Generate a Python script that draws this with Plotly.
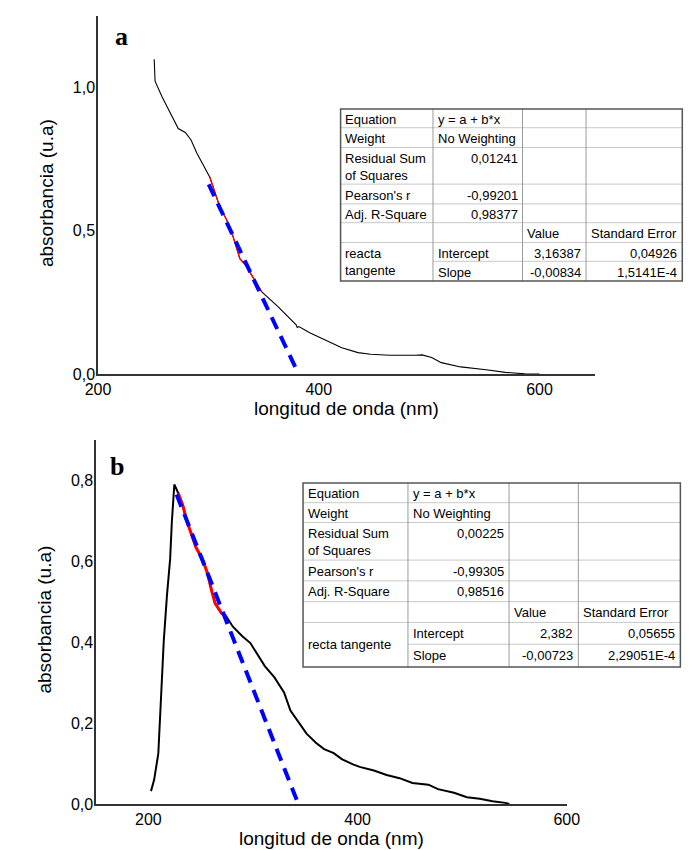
import plotly.graph_objects as go

W, H = 695, 850

# ---------------- data: panel a ----------------
wl_a = [250.9, 251.7, 258.1, 265.4, 272.7, 279.1, 284.3, 289.6, 295.9, 301.2, 306.1, 310.5,
        316.2, 322.1, 328.5, 333.7, 341.0, 348.2, 362.8, 371.5, 379.5, 380.5, 382.0, 391.8,
        406.4, 420.9, 435.5, 447.0, 464.5, 480.0, 487.8, 493.6, 502.3, 511.0, 528.5, 551.7,
        569.1, 586.6, 600.0]
abs_a = [1.099, 1.022, 0.967, 0.909, 0.857, 0.843, 0.817, 0.771, 0.725, 0.688, 0.633, 0.581,
         0.541, 0.483, 0.403, 0.380, 0.334, 0.288, 0.236, 0.201, 0.172, 0.163, 0.166, 0.144,
         0.117, 0.092, 0.075, 0.069, 0.066, 0.065, 0.066, 0.067, 0.058, 0.040, 0.025, 0.015,
         0.006, 0.001, 0.0]
fit_range_a = [301.2, 348.2]
tan_wl_a = [300.3, 381.7]
tan_abs_a = [0.662, 0.0]

# ---------------- data: panel b ----------------
wl_b = [202.5, 205.5, 209.5, 211.6, 214.7, 217.8, 220.8, 222.4, 224.8, 228.5, 233.1, 236.2,
        240.8, 245.4, 251.5, 256.1, 260.7, 263.8, 269.9, 274.5, 280.6, 289.8, 297.5, 306.7,
        311.3, 320.5, 329.7, 335.8, 343.5, 351.2, 360.4, 368.0, 377.2, 384.9, 395.6, 402.0,
        415.6, 427.8, 440.1, 452.4, 467.7, 476.9, 492.2, 504.5, 516.8, 529.0, 541.3, 545.0]
abs_b = [0.033, 0.061, 0.126, 0.249, 0.404, 0.518, 0.607, 0.697, 0.791, 0.770, 0.738, 0.705,
         0.673, 0.636, 0.607, 0.575, 0.526, 0.497, 0.473, 0.465, 0.440, 0.416, 0.399, 0.363,
         0.342, 0.314, 0.277, 0.232, 0.204, 0.175, 0.152, 0.137, 0.127, 0.112, 0.099, 0.093,
         0.084, 0.073, 0.065, 0.053, 0.049, 0.038, 0.029, 0.018, 0.014, 0.008, 0.004, 0.001]
fit_range_b = [227.0, 274.5]
tan_wl_b = [227.0, 343.5]
tan_abs_b = [0.766, 0.0]

# ---------------- tick labels ----------------
xticks_a = [200, 400, 600]
xticklabels_a = ["200", "400", "600"]
yticks_a = [0.0, 0.5, 1.0]
yticklabels_a = ["0,0", "0,5", "1,0"]
xticks_b = [200, 400, 600]
xticklabels_b = ["200", "400", "600"]
yticks_b = [0.0, 0.2, 0.4, 0.6, 0.8]
yticklabels_b = ["0,0", "0,2", "0,4", "0,6", "0,8"]

x_title = "longitud de onda (nm)"
y_title = "absorbancia (u.a)"

# ---------------- table contents ----------------
table_a = [
    ["Equation", "y = a + b*x", "", ""],
    ["Weight", "No Weighting", "", ""],
    ["Residual Sum<br>of Squares", "0,01241", "", ""],
    ["Pearson's r", "-0,99201", "", ""],
    ["Adj. R-Square", "0,98377", "", ""],
    ["", "", "Value", "Standard Error"],
    ["reacta<br>tangente", "Intercept", "3,16387", "0,04926"],
    [None, "Slope", "-0,00834", "1,5141E-4"],
]
table_b = [
    ["Equation", "y = a + b*x", "", ""],
    ["Weight", "No Weighting", "", ""],
    ["Residual Sum<br>of Squares", "0,00225", "", ""],
    ["Pearson's r", "-0,99305", "", ""],
    ["Adj. R-Square", "0,98516", "", ""],
    ["", "", "Value", "Standard Error"],
    ["recta tangente", "Intercept", "2,382", "0,05655"],
    [None, "Slope", "-0,00723", "2,29051E-4"],
]

FONT = "Liberation Sans, Arial, sans-serif"

fig = go.Figure()


def add_panel(wl, ab, fit_range, tw, ta, xa, ya, lw, rw):
    fig.add_trace(go.Scatter(x=wl, y=ab, mode="lines", line=dict(color="black", width=lw),
                             xaxis=xa, yaxis=ya, hoverinfo="skip"))
    rx = [w for w in wl if fit_range[0] <= w <= fit_range[1]]
    ry = [a for w, a in zip(wl, ab) if fit_range[0] <= w <= fit_range[1]]
    fig.add_trace(go.Scatter(x=rx, y=ry, mode="lines", line=dict(color="#ff0000", width=rw),
                             xaxis=xa, yaxis=ya, hoverinfo="skip"))
    fig.add_trace(go.Scatter(x=tw, y=ta, mode="lines",
                             line=dict(color="#0000ff", width=4, dash="13px,8px"),
                             xaxis=xa, yaxis=ya, hoverinfo="skip"))


add_panel(wl_a, abs_a, fit_range_a, tan_wl_a, tan_abs_a, "x", "y", 1.1, 1.2)
add_panel(wl_b, abs_b, fit_range_b, tan_wl_b, tan_abs_b, "x2", "y2", 2, 3)

axis_common = dict(showline=True, linecolor="#333", linewidth=1.5, ticks="", showgrid=False,
                   zeroline=False, tickfont=dict(family=FONT, size=16, color="black"))


def px_x(p):
    return p / W


def px_y(p):
    return 1 - p / H


fig.update_layout(
    width=W, height=H, autosize=False,
    margin=dict(l=0, r=0, t=0, b=0),
    plot_bgcolor="white", paper_bgcolor="white", showlegend=False,
    xaxis=dict(domain=[px_x(80), px_x(596)], range=[200, 650], anchor="y",
               tickvals=xticks_a, ticktext=xticklabels_a, ticklabelstandoff=0, **axis_common),
    yaxis=dict(domain=[px_y(370), px_y(8)], range=[0, 1.25], anchor="x",
               tickvals=yticks_a, ticktext=yticklabels_a, ticklabelstandoff=-2, **axis_common),
    xaxis2=dict(domain=[px_x(78), px_x(567)], range=[150, 600], anchor="y2",
                tickvals=xticks_b, ticktext=xticklabels_b, ticklabelstandoff=0, **axis_common),
    yaxis2=dict(domain=[px_y(805), px_y(437)], range=[0, 0.9], anchor="x2",
                tickvals=yticks_b, ticktext=yticklabels_b, ticklabelstandoff=-2, **axis_common),
)

annotations = []
shapes = []

# axis titles and panel letters
for (cx, cy, txt, ang) in [(338, 405, x_title, 0), (26, 187, y_title, -90),
                           (323, 839, x_title, 0), (24, 618, y_title, -90)]:
    annotations.append(dict(x=px_x(cx), y=px_y(cy), xref="paper", yref="paper", text=txt,
                            showarrow=False, textangle=ang, xanchor="center", yanchor="middle",
                            font=dict(family=FONT, size=19, color="black")))
for (cx, cy, txt) in [(104, 29, "a"), (100, 463, "b")]:
    annotations.append(dict(x=px_x(cx), y=px_y(cy), xref="paper", yref="paper",
                            text="<b>%s</b>" % txt, showarrow=False, xanchor="center",
                            yanchor="middle",
                            font=dict(family="Liberation Serif, Times New Roman, serif",
                                      size=26, color="black")))


def is_num(s):
    return len(s) > 0 and (s[0].isdigit() or s[0] == "-")


def draw_table(rows, col_edges, row_edges, merged_center):
    x0, x1 = col_edges[0], col_edges[-1]
    y0, y1 = row_edges[0], row_edges[-1]
    for i, ry in enumerate(row_edges[1:-1], start=1):
        start = x0
        if rows[i][0] is None:
            start = col_edges[1]
        shapes.append(dict(type="line", xref="paper", yref="paper",
                           x0=px_x(start), x1=px_x(x1), y0=px_y(ry), y1=px_y(ry),
                           line=dict(color="#c8c8c8", width=1)))
    for cx in col_edges[1:-1]:
        shapes.append(dict(type="line", xref="paper", yref="paper",
                           x0=px_x(cx), x1=px_x(cx), y0=px_y(y0), y1=px_y(y1),
                           line=dict(color="#9a9a9a", width=1)))
    shapes.append(dict(type="rect", xref="paper", yref="paper",
                       x0=px_x(x0), x1=px_x(x1), y0=px_y(y0), y1=px_y(y1),
                       line=dict(color="#555", width=1.5)))
    for i, row in enumerate(rows):
        top = row_edges[i]
        for j, cell in enumerate(row):
            if not cell:
                continue
            left, right = col_edges[j], col_edges[j + 1]
            right_align = j > 0 and is_num(cell)
            if j == 0 and i + 1 < len(rows) and rows[i + 1][0] is None and merged_center:
                yy, ya = (top + row_edges[i + 2]) / 2, "middle"
            else:
                yy, ya = top + 1.5, "top"
            annotations.append(dict(
                x=px_x(right - 3) if right_align else px_x(left + 3), y=px_y(yy),
                xref="paper", yref="paper", text=cell, showarrow=False,
                xanchor="right" if right_align else "left", yanchor=ya, align="left",
                font=dict(family=FONT, size=13, color="black")))


draw_table(table_a, [332, 428, 521, 587, 687],
           [102, 121, 141, 178, 198, 217, 237, 256, 276], False)
draw_table(table_b, [293, 402, 507, 579, 685],
           [480, 500, 520, 558, 579, 600, 621, 643, 666], True)

fig.update_layout(annotations=annotations, shapes=shapes)
fig.write_html("out.html")
